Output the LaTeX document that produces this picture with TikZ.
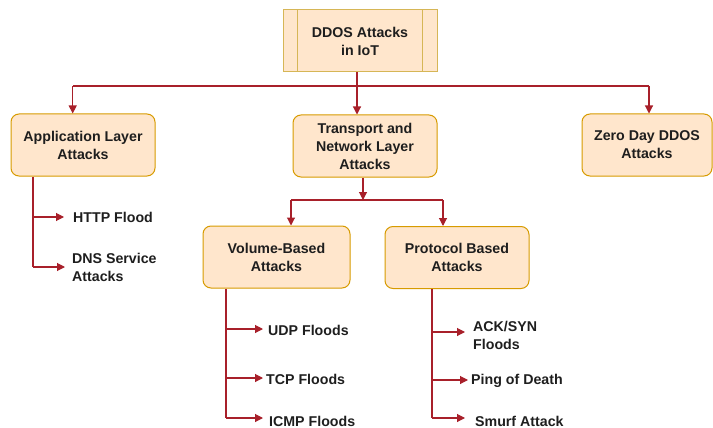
\documentclass[tikz,border=0pt]{standalone}
\usepackage{fontspec}
\setmainfont{Liberation Sans}
\usetikzlibrary{arrows.meta}
\definecolor{boxfill}{HTML}{FFE6CC}
\definecolor{boxline}{HTML}{D79B00}
\definecolor{topline}{HTML}{D6B656}
\definecolor{wire}{HTML}{A8202A}
\definecolor{ink}{HTML}{1E1E1E}
\tikzset{
  catbox/.style={draw=boxline, fill=boxfill, rounded corners=8pt, line width=1pt,
    align=center, text=ink, font=\fontsize{14.2}{18}\selectfont\bfseries, inner sep=0pt},
  procbox/.style={draw=topline, fill=boxfill, line width=1pt,
    align=center, text=ink, font=\fontsize{14.2}{18}\selectfont\bfseries, inner sep=0pt},
  leaf/.style={anchor=west, align=left, text=ink, inner sep=0pt,
    font=\fontsize{14.2}{18}\selectfont\bfseries},
  wireline/.style={draw=wire, line width=1.1pt},
  wirearrow/.style={wireline, -{Triangle[length=8pt,width=8pt]}},
}
\begin{document}
\begin{tikzpicture}[x=1pt,y=-1pt]
\useasboundingbox (0,0) rectangle (713,428);

% root process box with side bars
\node[procbox, minimum width=154pt, minimum height=62pt] (root) at (360,41) {DDOS Attacks\\in IoT};
\draw[topline, line width=1pt] ([xshift=15pt]root.north west) -- ([xshift=15pt]root.south west);
\draw[topline, line width=1pt] ([xshift=-15pt]root.north east) -- ([xshift=-15pt]root.south east);

% attack categories
\node[catbox, minimum width=144pt, minimum height=62pt] (app) at (83,145) {Application Layer\\Attacks};
\node[catbox, minimum width=144pt, minimum height=62pt] (trans) at (365,146) {Transport and\\Network Layer\\Attacks};
\node[catbox, minimum width=130pt, minimum height=62pt] (zero) at (647,145) {Zero Day DDOS\\Attacks};
\node[catbox, minimum width=147pt, minimum height=62pt] (vol) at (276.5,257) {Volume-Based\\Attacks};
\node[catbox, minimum width=144pt, minimum height=62pt] (prot) at (457,257.5) {Protocol Based\\Attacks};

% leaves
\node[leaf] (http) at (73,217) {HTTP Flood};
\node[leaf] (dns) at (72,267) {DNS Service\\Attacks};
\node[leaf] (udp) at (268,330) {UDP Floods};
\node[leaf] (tcp) at (266,379) {TCP Floods};
\node[leaf] (icmp) at (269,421) {ICMP Floods};
\node[leaf] (ack) at (473,335) {ACK/SYN\\Floods};
\node[leaf] (ping) at (471,381) {Ping of Death};
\node[leaf] (smurf) at (475,421) {Smurf Attack};

% root to categories
\coordinate (rj) at (357,86);
\draw[wireline] (root.south -| rj) -- (rj);
\draw[wireline] (rj) -- (72.7,86) coordinate (rl);
\draw[wireline] (rj) -- (649,86) coordinate (rr);
\draw[wirearrow] (rl) -- (rl |- app.north);
\draw[wirearrow] (rj) -- (rj |- trans.north);
\draw[wirearrow] (rr) -- (rr |- zero.north);

% transport split
\coordinate (tj) at (363,200);
\draw[wirearrow] (trans.south -| tj) -- (tj);
\draw[wireline] (291,200) coordinate (tl) -- (443,200) coordinate (tr);
\draw[wirearrow] (tl) -- (tl |- vol.north);
\draw[wirearrow] (tr) -- (tr |- prot.north);

% application leaves
\coordinate (ab) at (33,267);
\draw[wireline] (app.south -| ab) -- (ab);
\draw[wirearrow] (33,217) -- ([xshift=-9pt]http.west);
\draw[wirearrow] (ab) -- (65,267);

% volume leaves
\coordinate (vb) at (226,418);
\draw[wireline] (vol.south -| vb) -- (vb);
\draw[wirearrow] (226,329) -- (263,329);
\draw[wirearrow] (226,378) -- (263,378);
\draw[wirearrow] (vb) -- (263,418);

% protocol leaves
\coordinate (pb) at (432,418);
\draw[wireline] (prot.south -| pb) -- (pb);
\draw[wirearrow] (432,332) -- (465,332);
\draw[wirearrow] (432,380) -- (468,380);
\draw[wirearrow] (pb) -- (465,418);
\end{tikzpicture}
\end{document}
